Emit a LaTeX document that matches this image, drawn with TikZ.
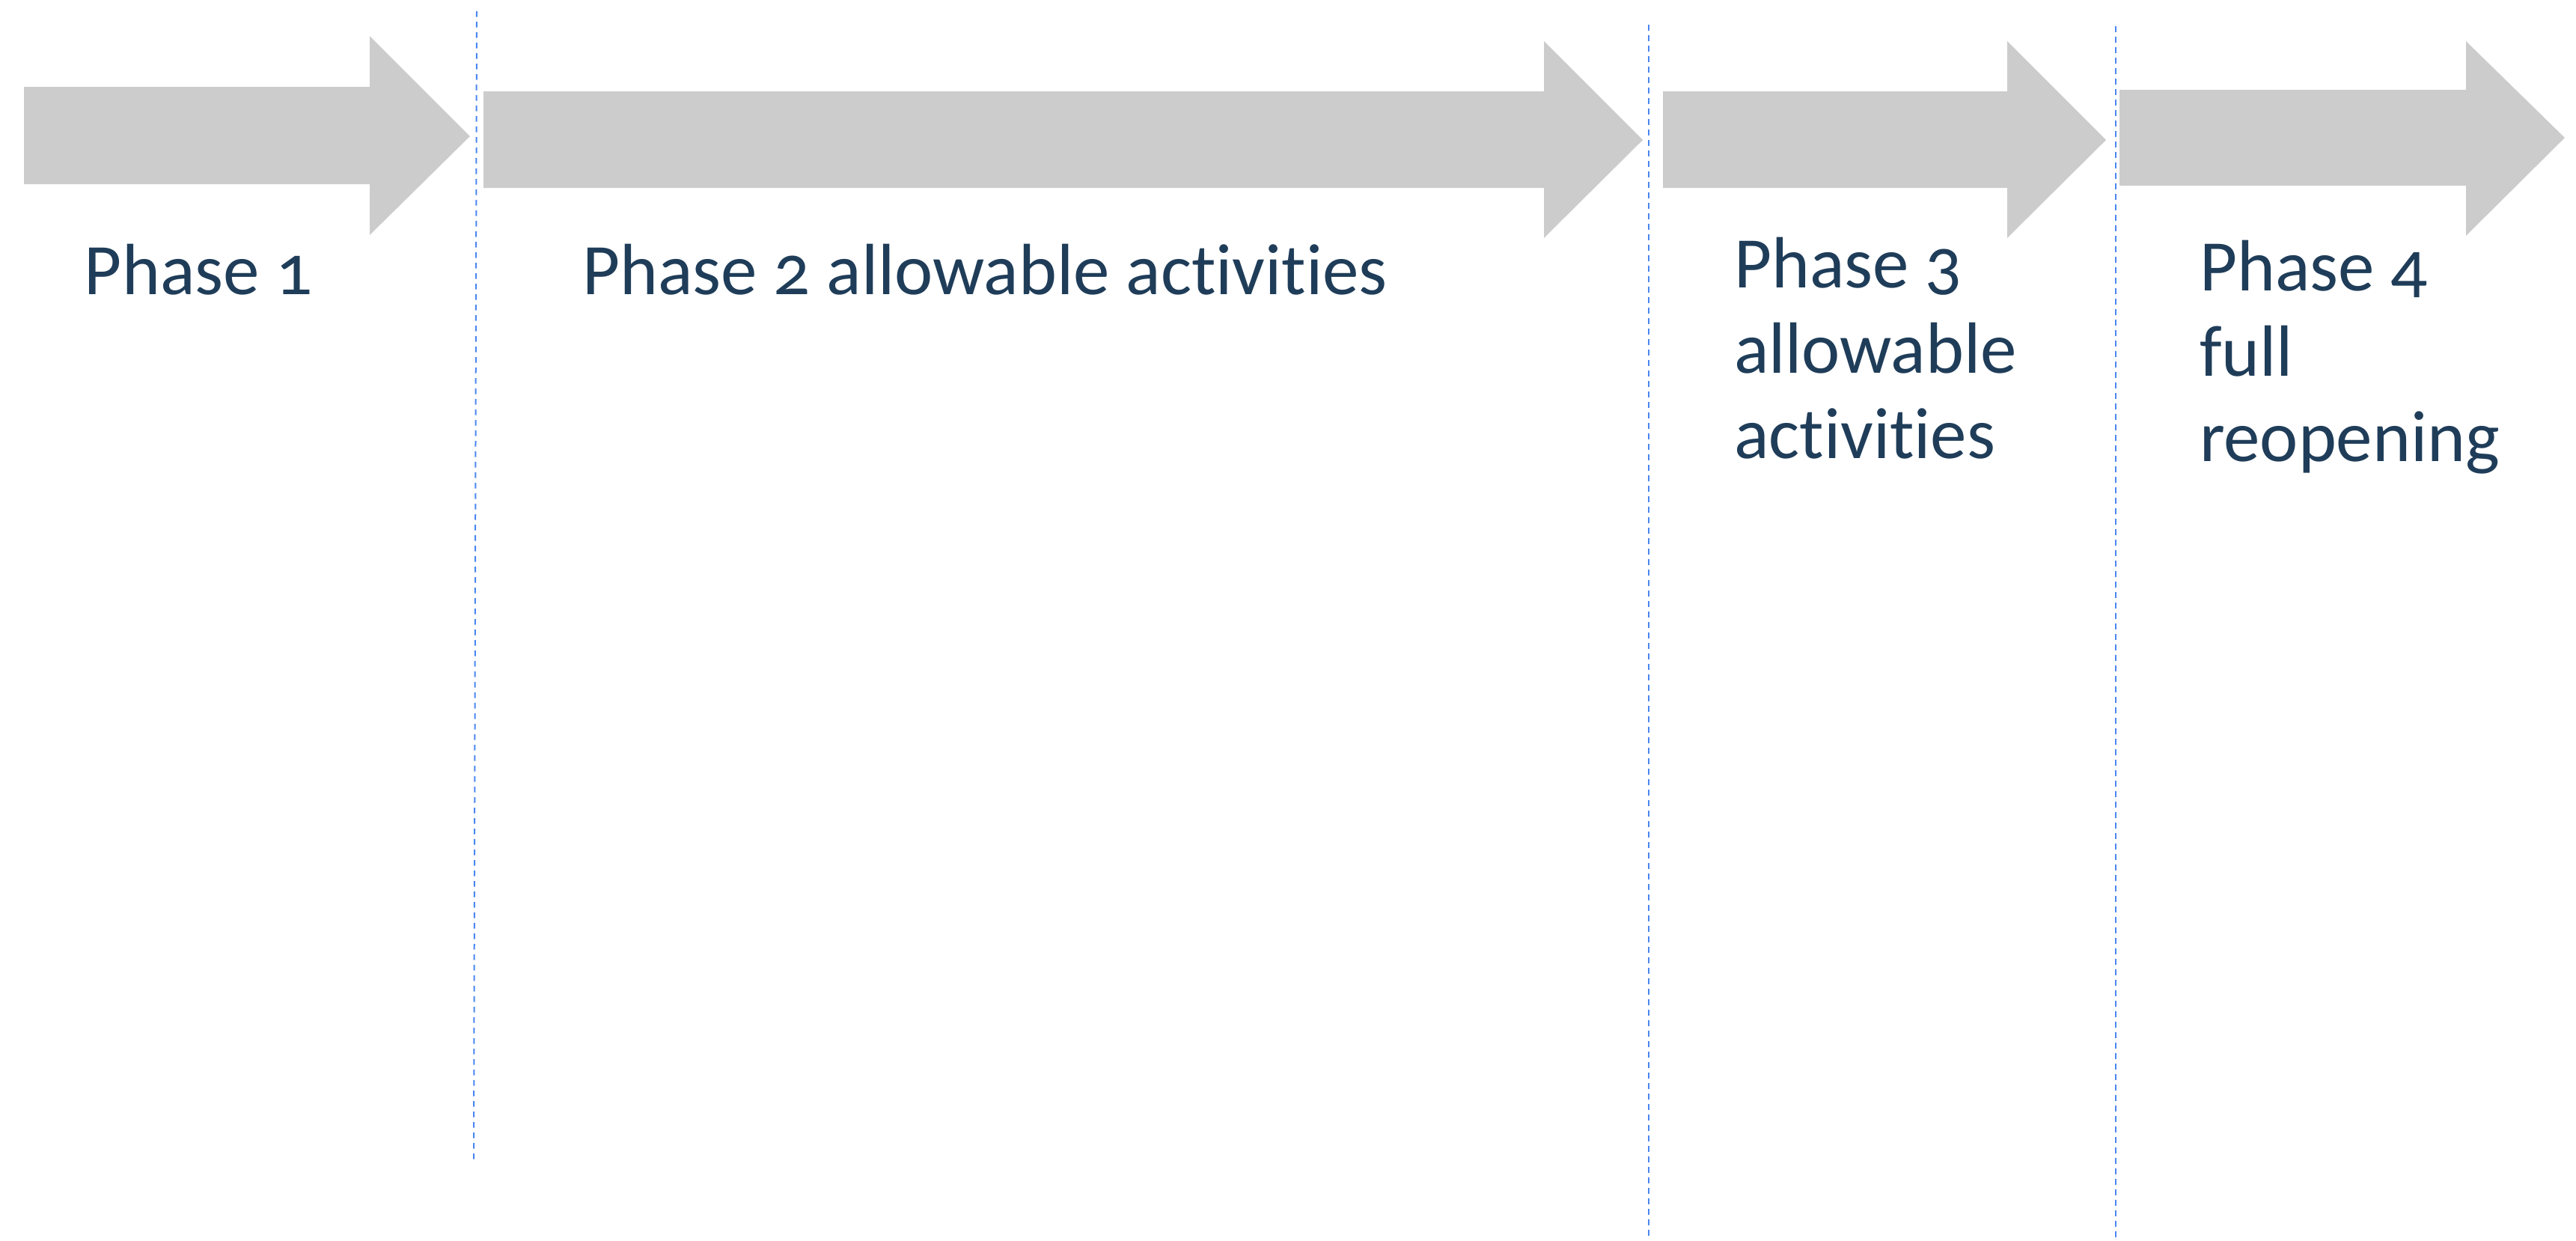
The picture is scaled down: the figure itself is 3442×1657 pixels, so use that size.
\documentclass[tikz,border=0pt]{standalone}
\usepackage{fontspec}
\setmainfont[Numbers=OldStyle,Ligatures=NoCommon]{Carlito}
\definecolor{arrowgray}{HTML}{CCCCCC}
\definecolor{navy}{HTML}{1F3D59}
\definecolor{dashblue}{HTML}{4A86F0}
\begin{document}
\begin{tikzpicture}[x=0.2pt,y=-0.2pt,
  phasearrow/.style={fill=arrowgray,draw=none},
  divider/.style={draw=dashblue,line width=0.4pt,dash pattern=on 1.5pt off 1.3pt},
  label/.style={text=navy,font=\fontsize{19.4}{22.8}\selectfont,inner sep=0pt,anchor=base west,align=left}]
\useasboundingbox (0,0) rectangle (3442,1657);
% arrows
\fill[phasearrow] (32,116) -- (494,116) -- (494,48) -- (628,182) -- (494,314) -- (494,246) -- (32,246) -- cycle;
\fill[phasearrow] (646,122) -- (2063,122) -- (2063,55) -- (2195,187) -- (2063,318) -- (2063,251) -- (646,251) -- cycle;
\fill[phasearrow] (2222,122) -- (2682,122) -- (2682,55) -- (2814,187) -- (2682,318) -- (2682,251) -- (2222,251) -- cycle;
\fill[phasearrow] (2832,120) -- (3295,120) -- (3295,55) -- (3427,184) -- (3295,315) -- (3295,248) -- (2832,248) -- cycle;
% dividers
\coordinate (d1a) at (637,15);
\coordinate (d1b) at (633,1549);
\coordinate (d2a) at (2203,33);
\coordinate (d2b) at (2203,1657);
\coordinate (d3a) at (2827,35);
\coordinate (d3b) at (2827,1657);
\draw[divider] (d1a) -- (d1b);
\draw[divider] (d2a) -- (d2b);
\draw[divider] (d3a) -- (d3b);
% labels (base anchor = baseline of the last line)
\node[label] (p1) at (112,393) {Phase 1};
\node[label] (p2) at (777,393) {Phase 2 allowable activities};
\node[label] (p3) at (2316,612) {Phase 3\\allowable\\activities};
\node[label] (p4) at (2938,616) {Phase 4\\full\\reopening};
\end{tikzpicture}
\end{document}
